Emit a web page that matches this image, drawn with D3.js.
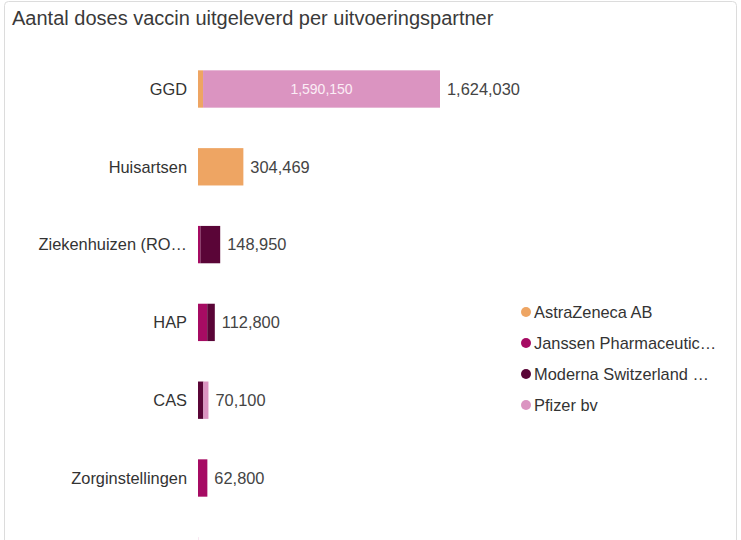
<!DOCTYPE html>
<html>
<head>
<meta charset="utf-8">
<script src="https://cdn.jsdelivr.net/npm/d3@7"></script>
<style>
    body { margin: 0; background: #fff; }
    svg { display: block; font-family: "Liberation Sans", Arial, sans-serif; }
</style>
</head>
<body>
<svg id="chart" width="741" height="540"></svg>
<script>
// partners (rows) and vendors (series)
var partners = ["GGD", "Huisartsen", "Ziekenhuizen (ROAZ)", "HAP", "CAS", "Zorginstellingen", "Overig"];
var vendors = ["AstraZeneca AB", "Janssen Pharmaceutica NV", "Moderna Switzerland GmbH", "Pfizer bv"];
var vendorColors = ["#eea563", "#a60b63", "#5a0537", "#db94c1"];

// doses per vendor, in the order of partners
var astraZeneca = [33880, 304469, 0, 0, 0, 0, 0];
var janssen = [0, 0, 16000, 62000, 0, 62800, 0];
var moderna = [0, 0, 132950, 50800, 36000, 0, 0];
var pfizer = [1590150, 0, 0, 0, 34100, 0, 1500];

var W = 741, H = 540;
var svg = d3.select("#chart");

// card
svg.append("rect")
    .attr("x", 4.5).attr("y", 1.5)
    .attr("width", 732).attr("height", 560)
    .attr("rx", 4)
    .attr("fill", "#fff")
    .attr("stroke", "#dcdcdc");

svg.append("text")
    .attr("x", 12).attr("y", 25)
    .attr("font-size", 20)
    .attr("fill", "#3a3a3a")
    .text("Aantal doses vaccin uitgeleverd per uitvoeringspartner");

var rows = partners.map(function (p, i) {
    return {partner: p, 0: astraZeneca[i], 1: janssen[i], 2: moderna[i], 3: pfizer[i]};
});
var totals = rows.map(function (r) { return r[0] + r[1] + r[2] + r[3]; });

var stack = d3.stack().keys([0, 1, 2, 3]);
var series = stack(rows);

var x = d3.scaleLinear()
    .domain([0, d3.max(totals)])
    .range([198, 440]);

var y = d3.scaleBand()
    .domain(partners)
    .range([50.1, 50.1 + 7 * 77.8])
    .paddingInner(0.52)
    .paddingOuter(0.26);

var g = svg.append("g");

series.forEach(function (s) {
    g.selectAll(null)
        .data(s)
        .enter()
        .filter(function (d) { return d[1] - d[0] > 0; })
        .append("rect")
        .attr("x", function (d) { return x(d[0]); })
        .attr("y", function (d) { return y(d.data.partner); })
        .attr("width", function (d) { return x(d[1]) - x(d[0]); })
        .attr("height", y.bandwidth())
        .attr("fill", vendorColors[s.key]);
});

// label inside the big Pfizer segment
series[3].forEach(function (d) {
    var w = x(d[1]) - x(d[0]);
    if (w < 100) return;
    g.append("text")
        .attr("x", (x(d[0]) + x(d[1])) / 2)
        .attr("y", y(d.data.partner) + y.bandwidth() / 2)
        .attr("dy", "0.35em")
        .attr("text-anchor", "middle")
        .attr("font-size", 14)
        .attr("fill", "#fbeef6")
        .text(d3.format(",")(d[1] - d[0]));
});

var fmt = d3.format(",");

// only rows whose middle is inside the picture get labels
var visible = partners.filter(function (d) { return y(d) + y.bandwidth() / 2 < H; });

// category labels
g.selectAll(".cat")
    .data(visible)
    .enter()
    .append("text")
    .attr("x", 187)
    .attr("y", function (d) { return y(d) + y.bandwidth() / 2; })
    .attr("dy", "0.35em")
    .attr("text-anchor", "end")
    .attr("font-size", 16.4)
    .attr("fill", "#333")
    .text(function (d) { return d == "Ziekenhuizen (ROAZ)" ? "Ziekenhuizen (RO…" : d; });

// totals
g.selectAll(".tot")
    .data(visible)
    .enter()
    .append("text")
    .attr("x", function (d, i) { return x(totals[i]) + 7; })
    .attr("y", function (d) { return y(d) + y.bandwidth() / 2; })
    .attr("dy", "0.35em")
    .attr("font-size", 16.4)
    .attr("fill", "#444")
    .text(function (d, i) { return fmt(totals[i]); });

// legend
var legendNames = ["AstraZeneca AB", "Janssen Pharmaceutic…", "Moderna Switzerland …", "Pfizer bv"];
var lg = svg.append("g");
legendNames.forEach(function (name, i) {
    var ly = 312 + i * 31;
    lg.append("circle")
        .attr("cx", 526).attr("cy", ly)
        .attr("r", 5)
        .attr("fill", vendorColors[i]);
    lg.append("text")
        .attr("x", 534).attr("y", ly)
        .attr("dy", "0.35em")
        .attr("font-size", 16.4)
        .attr("fill", "#333")
        .text(name);
});
</script>
</body>
</html>
